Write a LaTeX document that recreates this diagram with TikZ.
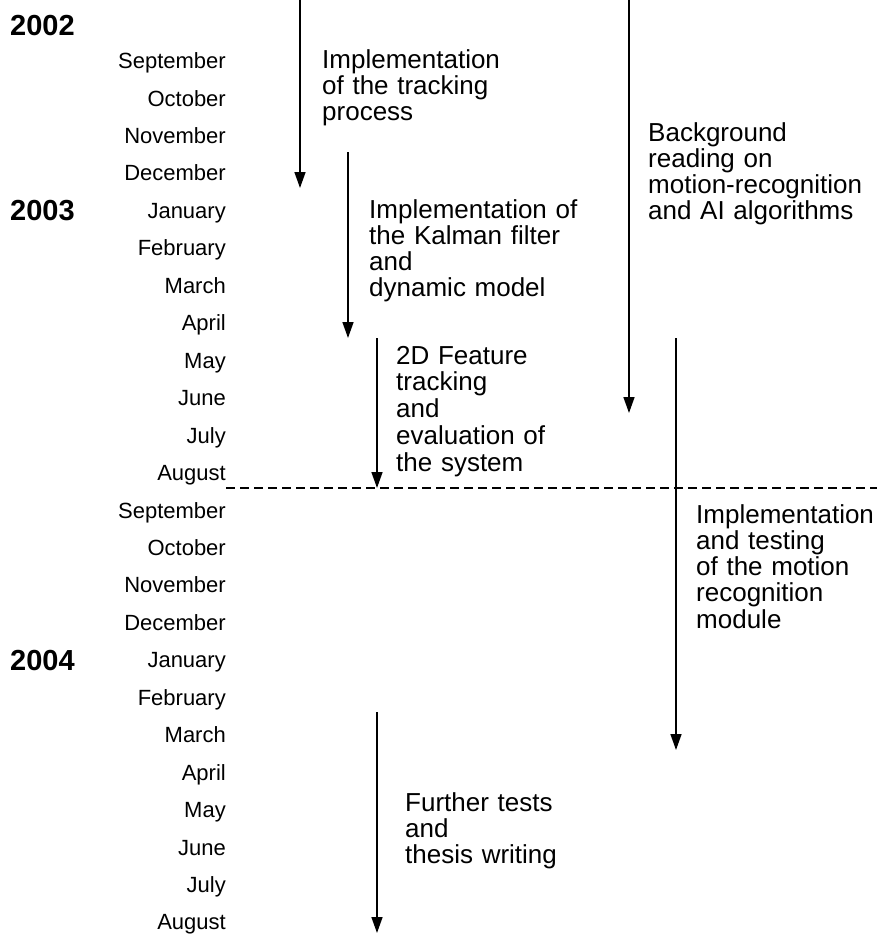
\documentclass[tikz,border=0pt]{standalone}
\usepackage{fontspec}
\setmainfont{Liberation Sans}
\usetikzlibrary{arrows.meta}
\begin{document}
\begin{tikzpicture}[x=1pt,y=-1pt,
  month/.style={anchor=base east,inner sep=0pt,font=\fontsize{22}{24}\selectfont},
  yearlabel/.style={anchor=base west,inner sep=0pt,font=\fontsize{29}{32}\selectfont\bfseries},
  task/.style={anchor=base west,inner sep=0pt,text width=228pt,align=left,font=\fontsize{26}{26.3}\selectfont},
  span/.style={line width=1.5pt,-{Triangle[length=16pt,width=11pt]}},
  divider/.style={line width=1.3pt,dash pattern=on 9pt off 5pt}]
\useasboundingbox (0,0) rectangle (877,935);

% years
\node[yearlabel] (y2002) at (10,35) {2002};
\node[yearlabel] (y2003) at (10,220) {2003};
\node[yearlabel] (y2004) at (10,670) {2004};

% months, right aligned
\foreach \m [count=\k from 0] in {September,October,November,December,January,February,March,April,May,June,July,August,September,October,November,December,January,February,March,April,May,June,July,August}
  \node[month] (m\k) at (226,{68.6+37.45*\k}) {\m};

% task descriptions
\node[task] (t1) at (322,68) {Implementation\\of the tracking\\process};
\node[task] (t2) at (369,218) {Implementation of\\the Kalman filter\\and\\dynamic model};
\node[task,font=\fontsize{26}{26.8}\selectfont] (t3) at (396,364) {2D Feature\\tracking\\and\\evaluation of\\the system};
\node[task] (t4) at (648,141) {Background\\reading on\\motion-recognition\\and AI algorithms};
\node[task] (t5) at (696,523) {Implementation\\and testing\\of the motion\\recognition\\module};
\node[task] (t6) at (405,811) {Further tests\\and\\thesis writing};

% task spans
\coordinate (a1s) at (300,0);   \coordinate (a1e) at (300,188);
\coordinate (a2s) at (348,152); \coordinate (a2e) at (348,338);
\coordinate (a3s) at (377,338); \coordinate (a3e) at (377,488);
\coordinate (a4s) at (629,0);   \coordinate (a4e) at (629,413);
\coordinate (a5s) at (676,338); \coordinate (a5e) at (676,750);
\coordinate (a6s) at (377,712); \coordinate (a6e) at (377,933);
\draw[span] (a1s) -- (a1e);
\draw[span] (a2s) -- (a2e);
\draw[span] (a3s) -- (a3e);
\draw[span] (a4s) -- (a4e);
\draw[span] (a5s) -- (a5e);
\draw[span] (a6s) -- (a6e);

% end of the first year
\coordinate (dl) at (226,488);
\coordinate (dr) at (877,488);
\draw[divider] (dl) -- (dr);
\end{tikzpicture}
\end{document}
